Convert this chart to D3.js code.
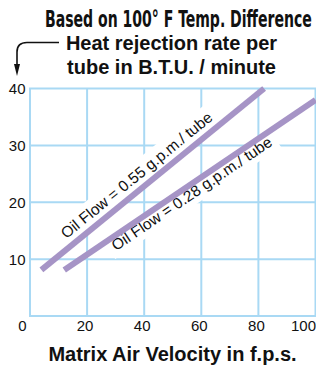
<!DOCTYPE html>
<html>
<head>
<meta charset="utf-8">
<script src="https://cdn.jsdelivr.net/npm/d3@7"></script>
<style>
body { margin: 0; background: #fff; }
svg { display: block; }
text { font-family: "Liberation Sans", Arial, sans-serif; fill: #111; }
</style>
</head>
<body>
<svg id="chart" width="316" height="365"></svg>
<script>

// values
var xTicks = [0, 20, 40, 60, 80, 100];
var yTicks = [10, 20, 30, 40];
var flowLabels = ["Oil Flow = 0.55 g.p.m./ tube", "Oil Flow = 0.28 g.p.m./ tube"];
var velocityHigh = [4, 82];     // 0.55 g.p.m.
var heatHigh = [8.1, 40];
var velocityLow = [12, 100];    // 0.28 g.p.m.
var heatLow = [8.1, 38];
var labelAt = [14.5, 27.5];     // x value where each label starts
var labelOffset = [-8, 13.5];   // above / below the line

var svg = d3.select("#chart");
var gridColour = "#a9d9f4";
var lineColour = "#a694c6";

var x = d3.scaleLinear().domain([0, 100]).range([30, 315.5]);
var y = d3.scaleLinear().domain([0, 40]).range([316, 88.5]);

// grid
var grid = svg.append("g");
grid.selectAll(".vline")
	.data(xTicks)
	.enter().append("line")
	.attr("x1", function(d) { return x(d); })
	.attr("x2", function(d) { return x(d); })
	.attr("y1", y(0))
	.attr("y2", y(40))
	.style("stroke", gridColour)
	.style("stroke-width", 2);
grid.selectAll(".hline")
	.data([0].concat(yTicks))
	.enter().append("line")
	.attr("x1", x(0) - 1)
	.attr("x2", x(100) + 1)
	.attr("y1", function(d) { return y(d); })
	.attr("y2", function(d) { return y(d); })
	.style("stroke", gridColour)
	.style("stroke-width", 2);

// tick labels
svg.selectAll(".ylab")
	.data(yTicks)
	.enter().append("text")
	.attr("x", 25.5)
	.attr("y", function(d) { return y(d); })
	.attr("dy", "0.36em")
	.attr("text-anchor", "end")
	.style("font-size", "15px")
	.text(function(d) { return d; });

svg.selectAll(".xlab")
	.data(xTicks)
	.enter().append("text")
	.attr("x", function(d) { return x(d) + (d == 0 ? -7.5 : d == 100 ? -12 : -2); })
	.attr("y", 331)
	.attr("text-anchor", "middle")
	.style("font-size", "15px")
	.text(function(d) { return d; });

// flow lines
var series = [
	{vel: velocityHigh, heat: heatHigh},
	{vel: velocityLow, heat: heatLow}
];
var line = d3.line()
	.x(function(d) { return x(d[0]); })
	.y(function(d) { return y(d[1]); });

// labels sit on a white box that hides the grid
series.forEach(function(s, i) {
	var p0 = [x(s.vel[0]), y(s.heat[0])];
	var p1 = [x(s.vel[1]), y(s.heat[1])];
	var ang = Math.atan2(p1[1] - p0[1], p1[0] - p0[0]);
	var t = (labelAt[i] - s.vel[0]) / (s.vel[1] - s.vel[0]);
	var px = p0[0] + t * (p1[0] - p0[0]);
	var py = p0[1] + t * (p1[1] - p0[1]);
	var g = svg.append("g")
		.attr("transform", "translate(" + px + "," + py + ") rotate(" + (ang * 180 / Math.PI) + ")");
	var box = g.append("rect").style("fill", "#fff");
	var txt = g.append("text")
		.attr("y", labelOffset[i])
		.style("font-size", "15.5px")
		.text(flowLabels[i]);
	var w = txt.node().getComputedTextLength();
	var top = i == 0 ? labelOffset[i] - 17 : 0;
	var bottom = i == 0 ? 0 : labelOffset[i] + 6;
	box.attr("x", -5).attr("width", w + 10)
		.attr("y", top).attr("height", bottom - top);
});

svg.selectAll(".flow")
	.data(series)
	.enter().append("path")
	.attr("d", function(s) { return line(d3.zip(s.vel, s.heat)); })
	.style("fill", "none")
	.style("stroke", lineColour)
	.style("stroke-width", 6);

// headings
var title = svg.append("text")
	.style("font-family", "'Liberation Sans Narrow', 'DejaVu Sans Condensed', sans-serif")
	.style("font-weight", "bold")
	.style("font-size", "23px")
	.text("Based on 100\u00b0 F Temp. Difference");
var titleW = title.node().getComputedTextLength();
title.attr("transform", "translate(45,27) scale(" + (267 / titleW) + ",1)");

svg.append("text")
	.attr("x", 171.5)
	.attr("y", 50)
	.attr("text-anchor", "middle")
	.style("font-weight", "bold")
	.style("font-size", "20px")
	.text("Heat rejection rate per");
svg.append("text")
	.attr("x", 171.5)
	.attr("y", 73.5)
	.attr("text-anchor", "middle")
	.style("font-weight", "bold")
	.style("font-size", "20px")
	.text("tube in B.T.U. / minute");

svg.append("text")
	.attr("x", 172.5)
	.attr("y", 360.5)
	.attr("text-anchor", "middle")
	.style("font-weight", "bold")
	.style("font-size", "20px")
	.text("Matrix Air Velocity in f.p.s.");

// curved arrow pointing at the y axis
svg.append("path")
	.attr("d", "M59,42.5 L27,42.5 Q17,42.5 17,52 L17,66")
	.style("fill", "none")
	.style("stroke", "#111")
	.style("stroke-width", 1.6);
svg.append("path")
	.attr("d", "M14,64 L20,64 L17,76 Z")
	.style("fill", "#111");

</script>
</body>
</html>
